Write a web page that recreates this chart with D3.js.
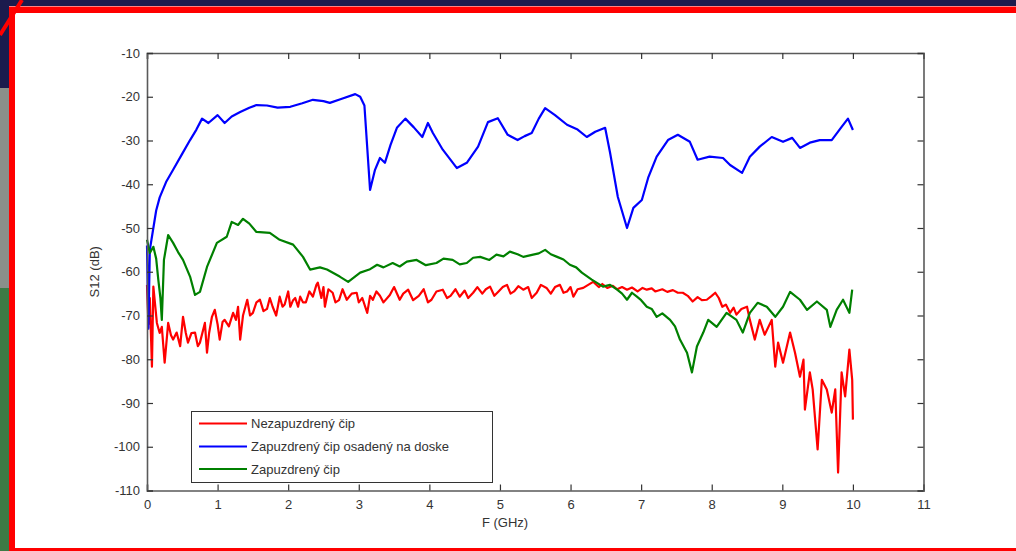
<!DOCTYPE html>
<html>
<head>
<meta charset="utf-8">
<script src="https://cdn.jsdelivr.net/npm/d3@7"></script>
<style>
html,body{margin:0;padding:0;background:#fff;}
svg{display:block;}
text{font-family:"Liberation Sans",Arial,sans-serif;}
</style>
</head>
<body>
<svg id="chart" width="1016" height="551"></svg>
<script>
// ---------- data ----------
const xTicks = [0,1,2,3,4,5,6,7,8,9,10,11];
const yTicks = [-10,-20,-30,-40,-50,-60,-70,-80,-90,-100,-110];
const seriesNames = ["Nezapuzdrený čip","Zapuzdrený čip osadený na doske","Zapuzdrený čip"];
const seriesColors = ["#ff0000","#0000ff","#008000"];
const xLabel = "F (GHz)";
const yLabel = "S12 (dB)";

const redSeries = [[0,-63],[0.02,-72],[0.04,-66],[0.07,-81.7],[0.09,-63.4],[0.14,-71.7],[0.18,-74],[0.21,-72.6],[0.25,-80.8],[0.3,-71.7],[0.34,-74.5],[0.37,-75.5],[0.42,-73.9],[0.47,-77],[0.51,-70.3],[0.55,-74],[0.58,-76.2],[0.63,-74],[0.68,-73.9],[0.72,-77],[0.75,-76.2],[0.82,-71.7],[0.85,-78.5],[0.88,-74],[0.92,-70.3],[0.96,-68.7],[1.0,-72],[1.03,-75.5],[1.07,-71.5],[1.1,-71],[1.16,-72.5],[1.22,-69.4],[1.26,-71],[1.29,-68],[1.32,-75.5],[1.36,-70],[1.42,-66.4],[1.46,-70],[1.5,-69.4],[1.55,-67],[1.6,-66.4],[1.65,-69],[1.7,-68.5],[1.74,-66],[1.78,-68],[1.83,-70],[1.88,-65.7],[1.92,-68],[1.95,-67.5],[2.0,-64.5],[2.03,-68],[2.07,-66.5],[2.1,-66],[2.14,-68],[2.17,-65.7],[2.21,-67],[2.25,-67],[2.3,-64.5],[2.35,-65.7],[2.4,-63],[2.42,-62.5],[2.47,-66],[2.5,-63.5],[2.52,-68],[2.57,-64],[2.63,-64.8],[2.67,-67],[2.72,-66.5],[2.77,-64],[2.83,-66.4],[2.9,-65],[2.97,-64.8],[3.0,-67],[3.05,-66],[3.12,-69.4],[3.16,-65.5],[3.2,-66.4],[3.25,-64.5],[3.3,-65.5],[3.35,-67],[3.44,-65.3],[3.5,-63.5],[3.58,-66.4],[3.63,-65],[3.7,-64.1],[3.77,-66.5],[3.85,-65.5],[3.92,-64],[3.98,-67],[4.03,-66.4],[4.1,-64.5],[4.19,-64.1],[4.25,-66],[4.3,-65.5],[4.37,-64],[4.43,-65.7],[4.5,-64.3],[4.55,-66],[4.62,-64.8],[4.68,-63.5],[4.75,-65],[4.8,-64],[4.86,-63.4],[4.92,-65.5],[4.98,-64.5],[5.04,-63.5],[5.1,-63],[5.15,-65],[5.2,-64.5],[5.26,-63.3],[5.33,-64.1],[5.4,-63.5],[5.45,-66],[5.52,-64.8],[5.58,-63],[5.66,-63.7],[5.72,-65],[5.78,-63.5],[5.85,-63],[5.9,-64.8],[5.95,-64.5],[6.0,-63.5],[6.04,-65.7],[6.1,-64],[6.18,-63.7],[6.25,-63],[6.32,-62.3],[6.4,-63.5],[6.45,-62.8],[6.52,-63.7],[6.6,-63.2],[6.66,-64],[6.73,-63.5],[6.8,-64.1],[6.87,-63.6],[6.95,-64.5],[7.02,-63.7],[7.08,-64.1],[7.15,-63.8],[7.2,-64.5],[7.3,-64],[7.37,-64.6],[7.45,-64.2],[7.52,-64.8],[7.59,-64.8],[7.66,-65.5],[7.73,-66.8],[7.8,-65.8],[7.86,-66.5],[7.93,-66.4],[8.0,-65.5],[8.05,-64.8],[8.1,-66],[8.15,-68],[8.2,-67.5],[8.26,-69.4],[8.31,-68.2],[8.35,-69.8],[8.42,-68.5],[8.5,-68],[8.54,-71],[8.61,-75.5],[8.68,-71],[8.75,-74.4],[8.85,-71],[8.9,-81.7],[8.94,-76.2],[9.01,-80.8],[9.11,-73.9],[9.18,-78.5],[9.25,-84],[9.3,-80.1],[9.32,-91.5],[9.39,-83],[9.43,-86.9],[9.5,-100.6],[9.56,-84.7],[9.63,-86.9],[9.7,-92.2],[9.75,-86.9],[9.79,-105.9],[9.84,-83],[9.89,-88.5],[9.95,-77.8],[9.99,-84.7],[10,-93.8]];

const blueSeries = [[0,-54],[0.02,-73],[0.04,-55],[0.09,-50],[0.13,-46],[0.18,-43],[0.27,-39.5],[0.37,-36.7],[0.5,-33],[0.61,-29.9],[0.7,-27.5],[0.78,-25],[0.87,-26],[1.0,-24.2],[1.1,-26],[1.2,-24.5],[1.32,-23.5],[1.45,-22.5],[1.55,-21.9],[1.7,-22],[1.85,-22.5],[2.03,-22.3],[2.2,-21.5],[2.35,-20.7],[2.5,-21],[2.59,-21.4],[2.75,-20.5],[2.95,-19.4],[3.02,-20],[3.08,-22],[3.16,-41.3],[3.23,-36.7],[3.3,-34],[3.37,-35.1],[3.45,-31],[3.54,-27.1],[3.66,-25],[3.78,-27],[3.9,-29.2],[3.98,-26],[4.05,-28.3],[4.19,-32.1],[4.39,-36.3],[4.53,-35.1],[4.69,-31.4],[4.83,-25.8],[4.97,-24.9],[5.11,-28.7],[5.25,-29.9],[5.35,-29],[5.45,-28.3],[5.55,-25],[5.64,-22.6],[5.78,-24.2],[5.95,-26.4],[6.1,-27.5],[6.23,-29.2],[6.35,-28],[6.49,-27.1],[6.56,-32.8],[6.67,-42.9],[6.8,-50],[6.89,-45.4],[7.01,-43.6],[7.1,-38.5],[7.22,-33.7],[7.38,-29.9],[7.52,-28.7],[7.69,-30.3],[7.8,-34.4],[7.97,-33.7],[8.16,-34],[8.26,-35.6],[8.43,-37.4],[8.54,-33.7],[8.68,-31.4],[8.85,-29.2],[9.01,-30.3],[9.14,-29.4],[9.25,-31.7],[9.39,-30.5],[9.53,-29.9],[9.7,-29.9],[9.84,-26.9],[9.93,-25],[10.0,-27.6]];

const greenSeries = [[0,-52.7],[0.04,-55.7],[0.09,-54.3],[0.13,-57],[0.16,-61.8],[0.19,-66],[0.21,-71],[0.24,-57.3],[0.3,-51.6],[0.37,-53.4],[0.44,-55.5],[0.51,-57.3],[0.61,-61.1],[0.68,-65.3],[0.75,-64.6],[0.85,-58.9],[0.99,-53.4],[1.13,-52],[1.2,-48.6],[1.29,-49.3],[1.36,-47.9],[1.45,-49],[1.55,-50.9],[1.74,-51.1],[1.88,-52.7],[2.07,-53.8],[2.21,-56.6],[2.31,-59.5],[2.45,-59],[2.55,-59.5],[2.73,-61.1],[2.85,-62.3],[3.02,-60.2],[3.15,-59.5],[3.26,-58.4],[3.35,-59],[3.48,-58],[3.58,-58.8],[3.68,-57.7],[3.82,-57.3],[3.95,-58.5],[4.1,-58],[4.2,-57],[4.33,-57.3],[4.43,-58.3],[4.53,-58],[4.62,-56.8],[4.72,-56.6],[4.85,-57.3],[4.95,-56.1],[5.05,-56.5],[5.14,-55.4],[5.25,-56],[5.33,-56.6],[5.47,-56.1],[5.55,-55.8],[5.64,-55],[5.72,-56],[5.81,-56.6],[5.9,-57.2],[5.99,-58.4],[6.08,-59],[6.16,-60.2],[6.3,-61.8],[6.46,-63.4],[6.56,-63],[6.66,-64.1],[6.73,-65],[6.8,-66.4],[6.87,-64.8],[6.94,-65.7],[7.0,-66.5],[7.08,-68],[7.15,-68.5],[7.22,-70.3],[7.3,-69.5],[7.41,-71],[7.48,-72.5],[7.55,-75.5],[7.65,-78.5],[7.72,-83],[7.79,-77.1],[7.88,-73.9],[7.95,-71],[8.07,-72.6],[8.21,-69.4],[8.35,-71],[8.44,-73.9],[8.54,-69.4],[8.65,-67.1],[8.78,-68],[8.9,-70.3],[9.01,-68],[9.11,-64.6],[9.25,-66.4],[9.35,-68.7],[9.49,-66.8],[9.63,-68.7],[9.68,-72.6],[9.77,-68.7],[9.86,-66.4],[9.95,-69.4],[9.99,-64.1]];

// ---------- frame decoration ----------
const svg = d3.select("#chart");
svg.append("rect").attr("x",0).attr("y",0).attr("width",1016).attr("height",551).attr("fill","#1b1b4d");
svg.append("rect").attr("x",0).attr("y",88).attr("width",10).attr("height",200).attr("fill","#8a8f8a");
svg.append("rect").attr("x",0).attr("y",288).attr("width",10).attr("height",263).attr("fill","#3d7a45");
svg.append("rect").attr("x",15).attr("y",13).attr("width",1001).attr("height",536).attr("fill","#ffffff");
svg.append("rect").attr("x",9).attr("y",6).attr("width",1007).attr("height",1).attr("fill","#ff8080");
svg.append("rect").attr("x",9).attr("y",7).attr("width",1007).attr("height",6).attr("fill","#ff0000");
svg.append("rect").attr("x",9).attr("y",7).attr("width",6).attr("height",544).attr("fill","#ff0000");
svg.append("rect").attr("x",9).attr("y",548).attr("width",1007).attr("height",3).attr("fill","#ff0000");
svg.append("line").attr("x1",0).attr("y1",35).attr("x2",22).attr("y2",0).attr("stroke","#ff0000").attr("stroke-width",4);

// ---------- scales ----------
const x = d3.scaleLinear().domain([0,11]).range([147,923.5]);
const y = d3.scaleLinear().domain([-110,-10]).range([490.5,53]);

// ---------- series ----------
const line = d3.line().x(d=>x(d[0])).y(d=>y(d[1]));
const allSeries = [redSeries, blueSeries, greenSeries];
const plot = svg.append("g");
allSeries.forEach((s,i)=>{
  plot.append("path").datum(s).attr("d",line)
    .attr("fill","none").attr("stroke",seriesColors[i])
    .attr("stroke-width",2.2).attr("stroke-linejoin","round");
});

// ---------- axes ----------
const axisColor = "#5a5a5a";
const tickColor = "#333";
const fmt = d => String(d);
const gx = svg.append("g").attr("transform",`translate(0,${y(-110)})`)
  .call(d3.axisBottom(x).tickValues(xTicks).tickSize(-6).tickPadding(9).tickFormat(fmt));
const gxt = svg.append("g").attr("transform",`translate(0,${y(-10)})`)
  .call(d3.axisTop(x).tickValues(xTicks).tickSize(-6).tickFormat(""));
const gy = svg.append("g").attr("transform",`translate(${x(0)},0)`)
  .call(d3.axisLeft(y).tickValues(yTicks).tickSize(-6).tickPadding(7).tickFormat(fmt));
const gyr = svg.append("g").attr("transform",`translate(${x(11)},0)`)
  .call(d3.axisRight(y).tickValues(yTicks).tickSize(-6).tickFormat(""));
[gx,gxt,gy,gyr].forEach(g=>{
  g.select(".domain").attr("stroke",axisColor).attr("stroke-width",1.6);
  g.selectAll(".tick line").attr("stroke",tickColor).attr("stroke-width",1.2);
  g.selectAll(".tick text").attr("fill","#333").attr("font-size",13)
   .attr("font-family","'Liberation Sans',Arial,sans-serif");
});

// axis labels
svg.append("text").attr("x",505).attr("y",527).attr("text-anchor","middle")
  .attr("font-size",13).attr("fill","#333").text(xLabel);
svg.append("text").attr("transform",`translate(99,${y(-60)}) rotate(-90)`)
  .attr("text-anchor","middle").attr("font-size",13).attr("fill","#333").text(yLabel);

// ---------- legend ----------
const lg = svg.append("g");
lg.append("rect").attr("x",191.5).attr("y",411.5).attr("width",301).attr("height",71)
  .attr("fill","#fff").attr("stroke","#333").attr("stroke-width",1);
const legendY = [423.5,446.5,469];
seriesNames.forEach((n,i)=>{
  lg.append("line").attr("x1",199).attr("x2",247).attr("y1",legendY[i]).attr("y2",legendY[i])
    .attr("stroke",seriesColors[i]).attr("stroke-width",2.2);
  lg.append("text").attr("x",251).attr("y",legendY[i]+4.5).attr("font-size",13)
    .attr("fill","#333").text(n);
});
</script>
</body>
</html>
